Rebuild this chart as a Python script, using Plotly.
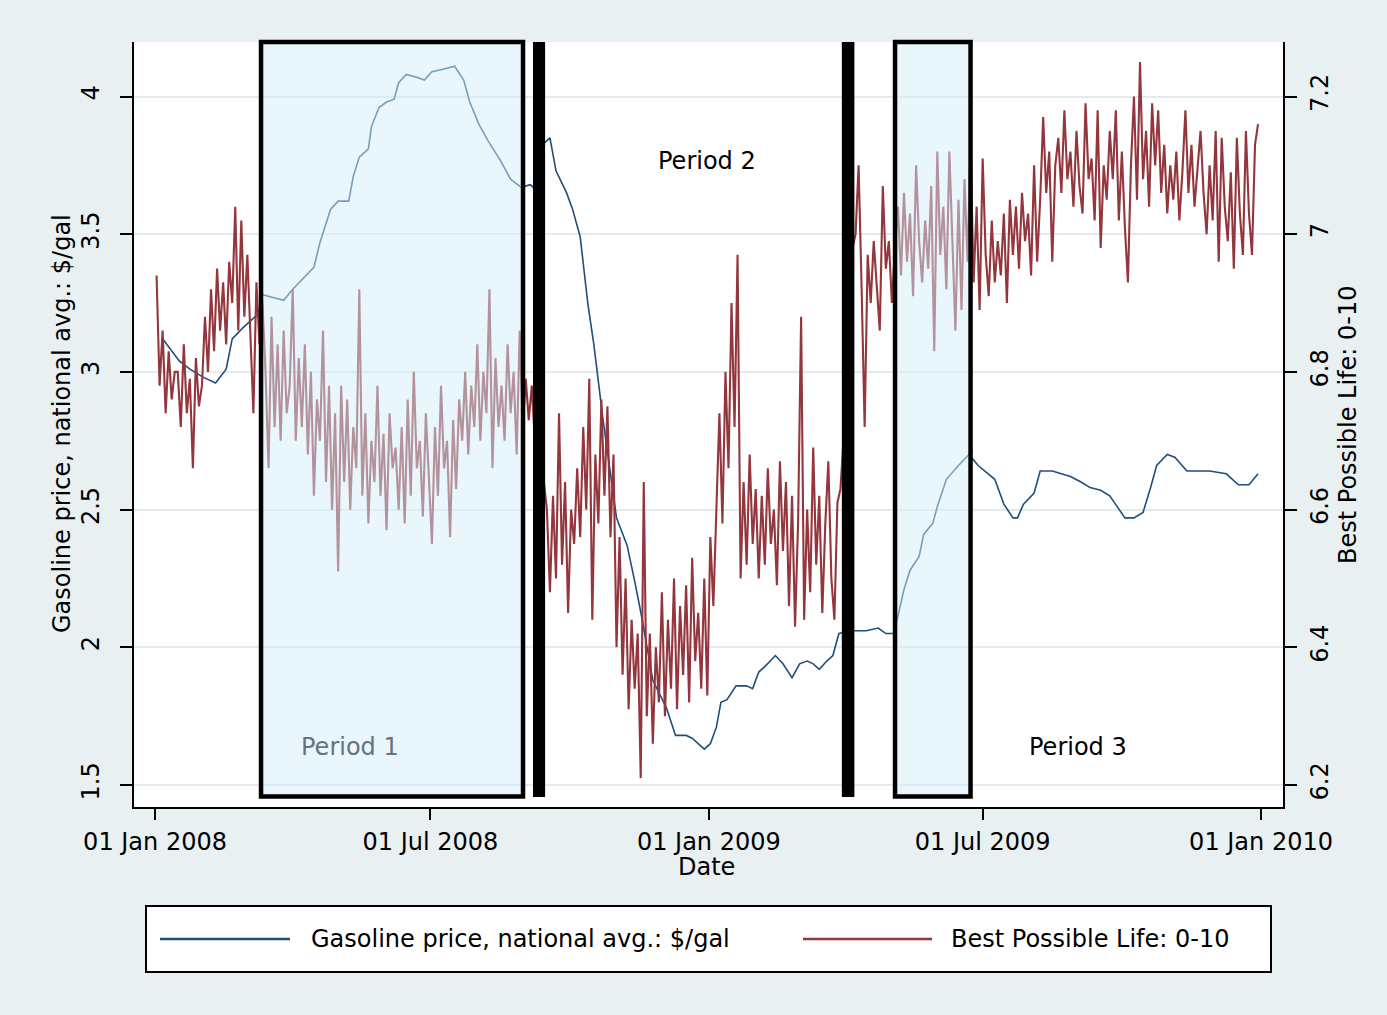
import plotly.graph_objects as go
import pandas as pd

# ---------------- data ----------------
gas_dates = [
    "2008-01-06", "2008-01-17", "2008-01-24", "2008-02-02", "2008-02-10", "2008-02-17", "2008-02-21",
    "2008-02-28", "2008-03-09", "2008-03-12", "2008-03-19", "2008-03-26", "2008-04-01", "2008-04-08",
    "2008-04-15", "2008-04-19", "2008-04-26", "2008-05-01", "2008-05-08", "2008-05-11", "2008-05-15",
    "2008-05-21", "2008-05-23", "2008-05-28", "2008-06-02", "2008-06-07", "2008-06-10", "2008-06-15",
    "2008-06-22", "2008-06-27", "2008-07-02", "2008-07-10", "2008-07-17", "2008-07-23", "2008-07-27",
    "2008-08-02", "2008-08-08", "2008-08-16", "2008-08-23", "2008-08-30", "2008-09-05", "2008-09-07",
    "2008-09-14", "2008-09-18", "2008-09-22", "2008-09-29", "2008-10-03", "2008-10-08", "2008-10-10",
    "2008-10-13", "2008-10-17", "2008-10-20", "2008-10-23", "2008-11-01", "2008-11-08", "2008-11-13",
    "2008-11-18", "2008-11-25", "2008-12-04", "2008-12-10", "2008-12-17", "2008-12-21", "2008-12-29",
    "2009-01-02", "2009-01-06", "2009-01-09", "2009-01-13", "2009-01-19", "2009-01-26", "2009-01-30",
    "2009-02-03", "2009-02-07", "2009-02-14", "2009-02-19", "2009-02-25", "2009-03-02", "2009-03-07",
    "2009-03-11", "2009-03-15", "2009-03-20", "2009-03-24", "2009-03-28", "2009-04-06", "2009-04-15",
    "2009-04-23", "2009-04-28", "2009-05-03", "2009-05-05", "2009-05-10", "2009-05-14", "2009-05-20",
    "2009-05-23", "2009-05-29", "2009-06-01", "2009-06-07", "2009-06-15", "2009-06-22", "2009-06-28",
    "2009-07-09", "2009-07-15", "2009-07-21", "2009-07-24", "2009-07-28", "2009-08-04", "2009-08-08",
    "2009-08-16", "2009-08-22", "2009-08-28", "2009-09-04", "2009-09-10", "2009-09-17", "2009-09-23",
    "2009-09-28", "2009-10-03", "2009-10-09", "2009-10-15", "2009-10-20", "2009-10-24", "2009-10-31",
    "2009-11-05", "2009-11-13", "2009-11-22", "2009-11-28", "2009-12-09", "2009-12-17", "2009-12-24",
    "2009-12-30",
]
gas_price = [
    3.12, 3.04, 3.01, 2.98, 2.96, 3.01, 3.12,
    3.16, 3.21, 3.28, 3.27, 3.26, 3.30, 3.34,
    3.38, 3.47, 3.59, 3.62, 3.62, 3.71, 3.78,
    3.81, 3.89, 3.96, 3.98, 3.99, 4.05, 4.08,
    4.07, 4.06, 4.09, 4.10, 4.11, 4.06, 3.98,
    3.90, 3.84, 3.77, 3.70, 3.67, 3.68, 3.67,
    3.83, 3.85, 3.73, 3.65, 3.59, 3.49, 3.39,
    3.25, 3.10, 2.96, 2.83, 2.47, 2.37, 2.24,
    2.10, 1.88, 1.78, 1.68, 1.68, 1.67, 1.63,
    1.65, 1.71, 1.80, 1.81, 1.86, 1.86, 1.85,
    1.91, 1.93, 1.97, 1.94, 1.89, 1.94, 1.95,
    1.94, 1.92, 1.95, 1.97, 2.05, 2.06, 2.06,
    2.07, 2.05, 2.05, 2.09, 2.21, 2.28, 2.33,
    2.41, 2.45, 2.51, 2.61, 2.66, 2.70, 2.66,
    2.61, 2.52, 2.47, 2.47, 2.52, 2.56, 2.64,
    2.64, 2.63, 2.62, 2.60, 2.58, 2.57, 2.55,
    2.51, 2.47, 2.47, 2.49, 2.58, 2.66, 2.70,
    2.69, 2.64, 2.64, 2.64, 2.63, 2.59, 2.59,
    2.63,
]

# Best Possible Life index, one observation every second day from 2 Jan 2008
life_start = "2008-01-02"
life_values = [
    6.94, 6.78, 6.86, 6.74, 6.83, 6.76, 6.80,
    6.80, 6.72, 6.84, 6.74, 6.79, 6.66, 6.82, 6.75,
    6.78, 6.88, 6.80, 6.92, 6.83, 6.95, 6.86, 6.93, 6.84, 6.96,
    6.90, 7.04, 6.86, 7.02, 6.88, 6.97, 6.85,
    6.74, 6.93, 6.84, 6.90,
    6.80, 6.66, 6.88, 6.72, 6.84, 6.70, 6.86, 6.74, 6.78, 6.92, 6.70, 6.82,
    6.72, 6.84, 6.68, 6.80, 6.62, 6.76, 6.70, 6.86, 6.64, 6.78, 6.60, 6.74, 6.51,
    6.78, 6.64, 6.76, 6.60, 6.72, 6.66, 6.92, 6.62, 6.74, 6.58,
    6.70, 6.64, 6.78, 6.62, 6.71, 6.57, 6.74, 6.66, 6.69, 6.60,
    6.72, 6.58, 6.76, 6.62, 6.80, 6.66, 6.70, 6.59, 6.74, 6.64,
    6.55, 6.72, 6.62, 6.78, 6.66, 6.70, 6.56, 6.73, 6.63, 6.76,
    6.70, 6.80, 6.68, 6.78, 6.72, 6.84, 6.70, 6.80, 6.74, 6.92, 6.66,
    6.82, 6.72, 6.78, 6.70, 6.84, 6.74, 6.80, 6.68, 6.86, 6.72,
    6.79, 6.73, 6.78, 6.70, 6.62, 6.58, 6.64,
    6.60, 6.48, 6.62, 6.50, 6.74, 6.52, 6.64, 6.45, 6.60, 6.55,
    6.66, 6.56, 6.72, 6.60, 6.79, 6.44, 6.68, 6.58, 6.76, 6.62, 6.75, 6.56, 6.68,
    6.40, 6.56, 6.36, 6.50, 6.31, 6.44, 6.34, 6.42, 6.21,
    6.64, 6.30, 6.42, 6.26, 6.40, 6.32,
    6.48, 6.30, 6.44, 6.34, 6.50, 6.31, 6.46, 6.36, 6.49, 6.32, 6.53, 6.38, 6.45,
    6.34, 6.50, 6.33, 6.56, 6.46,
    6.60, 6.74, 6.58, 6.80, 6.66, 6.90, 6.72,
    6.97, 6.50, 6.64, 6.52, 6.68, 6.55, 6.63, 6.50,
    6.62, 6.52, 6.66, 6.55, 6.60, 6.49, 6.67, 6.54, 6.64, 6.46, 6.62, 6.43, 6.58,
    6.88, 6.44, 6.60, 6.48, 6.69, 6.52, 6.62, 6.45, 6.58, 6.67, 6.50, 6.44, 6.61, 6.63,
    6.70, 6.85, 6.92, 6.98,
    7.00, 7.10, 6.92, 6.72, 6.97, 6.90, 6.99, 6.93, 6.86, 7.07, 6.95, 6.99, 6.90,
    6.98, 7.04, 6.94, 7.06, 6.96, 7.03, 6.91, 7.10, 6.99, 6.93, 7.02, 6.95, 7.07,
    6.83, 7.12, 6.97, 7.04, 6.92, 7.12, 6.99, 6.86, 7.05, 6.89, 7.08, 6.96, 7.13,
    6.93, 7.04, 6.89, 7.11, 6.97, 6.91, 7.02, 6.93, 6.99,
    6.94, 7.03, 6.90, 7.05, 6.97, 7.04, 6.95, 7.06, 6.99, 7.03, 6.94, 7.10, 6.96, 7.05,
    7.17, 7.06, 7.12, 6.96, 7.10, 7.14,
    7.06, 7.18, 7.08, 7.12, 7.04, 7.15, 7.07, 7.03, 7.19, 7.08, 7.11, 7.02,
    7.18, 6.98, 7.10, 7.05, 7.15, 7.08, 7.18, 7.02, 7.12, 7.01, 6.93,
    7.10, 7.20, 7.05, 7.25, 7.08, 7.15, 7.04, 7.19, 7.10, 7.18,
    7.06, 7.13, 7.03, 7.10, 7.05, 7.12, 7.02, 7.09, 7.18, 7.06, 7.13, 7.04, 7.10, 7.15,
    7.06, 7.00, 7.10, 7.02, 7.15, 6.96, 7.14, 7.04, 6.99, 7.09,
    6.95, 7.14, 7.03, 6.97, 7.15, 7.03, 6.97, 7.13, 7.16,
]
life_dates = pd.date_range(life_start, periods=len(life_values), freq="2D")

x_tick_dates = ["2008-01-01", "2008-07-01", "2009-01-01", "2009-07-01", "2010-01-01"]
x_tick_labels = ["01 Jan 2008", "01 Jul 2008", "01 Jan 2009", "01 Jul 2009", "01 Jan 2010"]
left_ticks = [1.5, 2, 2.5, 3, 3.5, 4]
left_tick_labels = ["1.5", "2", "2.5", "3", "3.5", "4"]
right_ticks = [6.2, 6.4, 6.6, 6.8, 7.0, 7.2]
right_tick_labels = ["6.2", "6.4", "6.6", "6.8", "7", "7.2"]

gas_name = "Gasoline price, national avg.: $/gal"
life_name = "Best Possible Life: 0-10"

# ---------------- style ----------------
NAVY = "#1f4f7d"
MAROON = "#93363d"
BG = "#e9f0f2"
GRID = "#e3ebee"
FONT = "DejaVu Sans, Liberation Sans, Arial, sans-serif"
FS = 24

W, H = 1387, 1015
ML, MR, MT, MB = 134, 104, 42, 208
PW, PH = W - ML - MR, H - MT - MB


def px(xp):
    return (xp - ML) / PW


def py(yp):
    return (MT + PH - yp) / PH


fig = go.Figure()
fig.add_trace(go.Scatter(x=gas_dates, y=gas_price, mode="lines", name=gas_name,
                         line=dict(color=NAVY, width=1.6), yaxis="y"))
fig.add_trace(go.Scatter(x=life_dates, y=life_values, mode="lines", name=life_name,
                         line=dict(color=MAROON, width=2.1), yaxis="y2"))

shapes = []
# shaded period boxes (drawn over the data, like the original)
for x0, x1 in [("2008-03-11 01:00", "2008-08-31 05:00"), ("2009-05-04 02:00", "2009-06-23 00:00")]:
    shapes.append(dict(type="rect", xref="x", yref="paper", x0=x0, x1=x1, y0=0.0137, y1=1.0,
                       fillcolor="rgba(212,237,250,0.5)", line=dict(color="black", width=4.5),
                       layer="above"))
# black separators
for x0, x1 in [("2008-09-06 19:00", "2008-09-14 19:00"), ("2009-03-29 22:00", "2009-04-07 05:00")]:
    shapes.append(dict(type="rect", xref="x", yref="paper", x0=x0, x1=x1, y0=0.013, y1=1.0,
                       fillcolor="black", line=dict(width=0), layer="above"))

# legend box (manual, to mimic Stata's legend)
shapes.append(dict(type="rect", xref="paper", yref="paper", x0=px(146), x1=px(1271),
                   y0=py(972), y1=py(906), fillcolor="white", line=dict(color="black", width=2),
                   layer="above"))
shapes.append(dict(type="line", xref="paper", yref="paper", x0=px(160), x1=px(290),
                   y0=py(939), y1=py(939), line=dict(color=NAVY, width=2.5), layer="above"))
shapes.append(dict(type="line", xref="paper", yref="paper", x0=px(803), x1=px(932),
                   y0=py(939), y1=py(939), line=dict(color=MAROON, width=2.5), layer="above"))


def ann(text, xp, yp, color="black", angle=0, xanchor="center"):
    return dict(text=text, x=px(xp), y=py(yp), xref="paper", yref="paper", showarrow=False,
                xanchor=xanchor, yanchor="middle", textangle=angle,
                font=dict(family=FONT, size=FS, color=color))


annotations = [
    ann("Period 1", 350, 747, color="#66737a"),
    ann("Period 2", 707, 161),
    ann("Period 3", 1078, 747),
    # axis titles
    ann(gas_name, 62, 424, angle=-90),
    ann(life_name, 1348, 425, angle=-90),
    ann("Date", 706, 867),
    # legend labels
    ann(gas_name, 309, 939, xanchor="left"),
    ann(life_name, 949, 939, xanchor="left"),
]

y_lo, y_hi = 1.4201, 4.1979
fig.update_layout(
    width=W, height=H,
    margin=dict(l=ML, r=MR, t=MT, b=MB, autoexpand=False),
    paper_bgcolor=BG, plot_bgcolor="white",
    showlegend=False,
    font=dict(family=FONT, size=FS, color="black"),
    shapes=shapes, annotations=annotations,
    xaxis=dict(type="date", range=["2007-12-18 02:00", "2010-01-15 12:00"],
               tickvals=x_tick_dates, ticktext=x_tick_labels,
               showgrid=False, zeroline=False, showline=True, linecolor="black", linewidth=1.5,
               ticks="outside", ticklen=11, tickwidth=1.5, tickcolor="black",
               ticklabelstandoff=1, tickfont=dict(family=FONT, size=FS)),
    yaxis=dict(range=[y_lo, y_hi], tickvals=left_ticks, ticktext=left_tick_labels,
               showgrid=True, gridcolor=GRID, gridwidth=1.5, zeroline=False,
               showline=True, linecolor="black", linewidth=1.5,
               ticks="outside", ticklen=12, tickwidth=1.5, tickcolor="black",
               tickangle=-90, ticklabelstandoff=12, tickfont=dict(family=FONT, size=FS)),
    yaxis2=dict(range=[6.2 + 0.4 * (y_lo - 1.5), 6.2 + 0.4 * (y_hi - 1.5)],
                tickvals=right_ticks, ticktext=right_tick_labels,
                overlaying="y", side="right", showgrid=False, zeroline=False,
                showline=True, linecolor="black", linewidth=1.5,
                ticks="outside", ticklen=12, tickwidth=1.5, tickcolor="black",
                tickangle=-90, ticklabelstandoff=2, tickfont=dict(family=FONT, size=FS)),
)

fig.write_html("out.html", config={"displayModeBar": False},
               post_script="document.body.style.margin='0px';")
